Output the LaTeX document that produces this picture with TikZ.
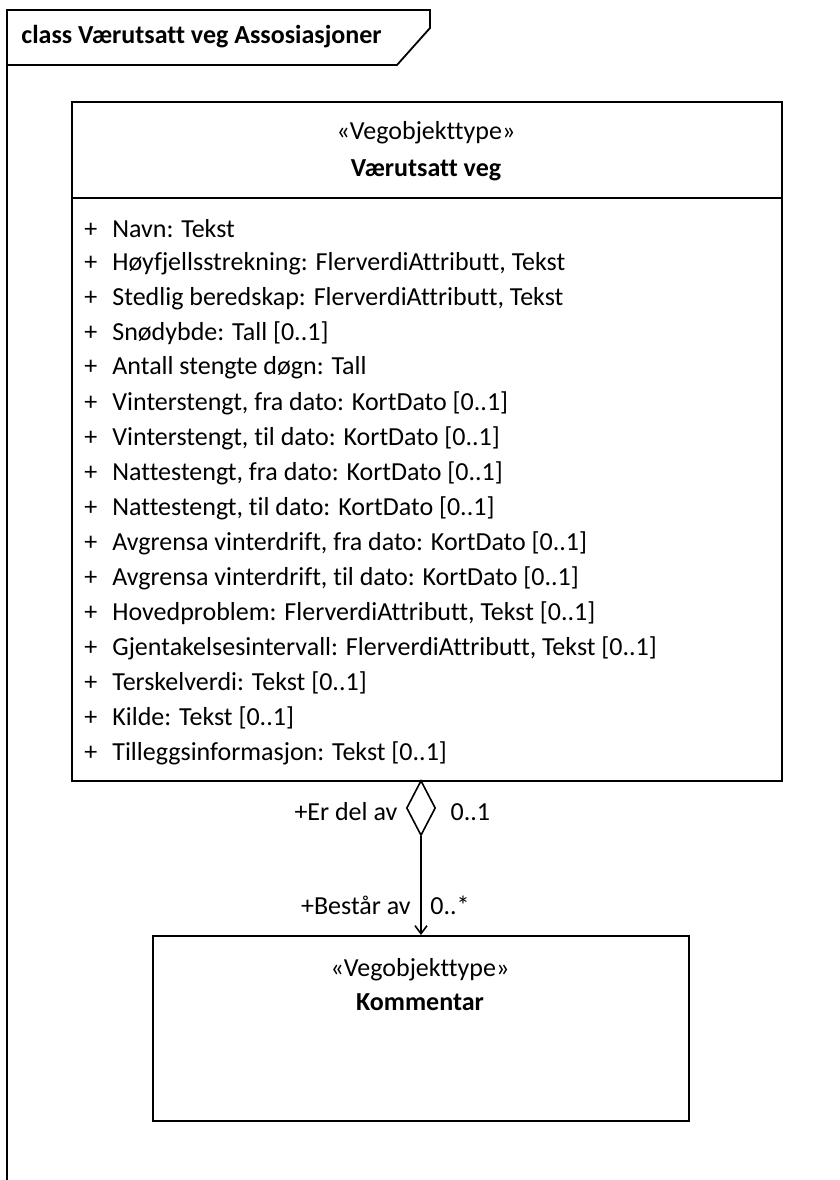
\documentclass[tikz,border=0pt]{standalone}
\usepackage{fontspec}
\setmainfont[Ligatures=NoCommon]{Carlito}
\usetikzlibrary{shapes.geometric,arrows.meta,positioning}
\newcommand\attr[1]{\makebox[14pt][l]{+}#1}
\tikzset{
  umlbox/.style={draw,line width=.9pt,inner sep=0pt,anchor=north west},
  txt/.style={inner sep=1pt,font=\fontsize{13}{15}\selectfont},
  attrline/.style={txt,anchor=west},
}
\begin{document}
\begin{tikzpicture}[x=.5pt,y=-.5pt,>={Straight Barb[length=4pt,width=6pt]}]
  \useasboundingbox (0,0) rectangle (840,1180);
  % frame
  \draw[line width=.9pt](7,1180)--(7,10)--(430,10)--(430,28)--(397,65)--(7,65);
  \node (frame) at(19,37)[txt,anchor=west]{\bfseries class Værutsatt veg Assosiasjoner};
  % Værutsatt veg
  \node (vv) at(71,101)[umlbox,minimum width=355pt,minimum height=339.5pt]{};
  \draw[line width=.9pt](vv.west|-0,198)--(vv.east|-0,198);
  \node (vvst) at(426,133)[txt]{«Vegobjekttype»};
  \node (vvnm) at(426,170)[txt]{\bfseries Værutsatt veg};
  \node (a1) at(82,229)[attrline]{\attr{Navn: Tekst}};
  \node (a2) at(82,264)[attrline]{\attr{Høyfjellsstrekning: FlerverdiAttributt, Tekst}};
  \node (a3) at(82,299)[attrline]{\attr{Stedlig beredskap: FlerverdiAttributt, Tekst}};
  \node (a4) at(82,333)[attrline]{\attr{Snødybde: Tall [0..1]}};
  \node (a5) at(82,368)[attrline]{\attr{Antall stengte døgn: Tall}};
  \node (a6) at(82,403)[attrline]{\attr{Vinterstengt, fra dato: KortDato [0..1]}};
  \node (a7) at(82,438)[attrline]{\attr{Vinterstengt, til dato: KortDato [0..1]}};
  \node (a8) at(82,473)[attrline]{\attr{Nattestengt, fra dato: KortDato [0..1]}};
  \node (a9) at(82,508)[attrline]{\attr{Nattestengt, til dato: KortDato [0..1]}};
  \node (a10) at(82,543)[attrline]{\attr{Avgrensa vinterdrift, fra dato: KortDato [0..1]}};
  \node (a11) at(82,578)[attrline]{\attr{Avgrensa vinterdrift, til dato: KortDato [0..1]}};
  \node (a12) at(82,613)[attrline]{\attr{Hovedproblem: FlerverdiAttributt, Tekst [0..1]}};
  \node (a13) at(82,648)[attrline]{\attr{Gjentakelsesintervall: FlerverdiAttributt, Tekst [0..1]}};
  \node (a14) at(82,683)[attrline]{\attr{Terskelverdi: Tekst [0..1]}};
  \node (a15) at(82,718)[attrline]{\attr{Kilde: Tekst [0..1]}};
  \node (a16) at(82,753)[attrline]{\attr{Tilleggsinformasjon: Tekst [0..1]}};
  % Kommentar
  \node (komm) at(152,935)[umlbox,minimum width=268pt,minimum height=92.5pt]{};
  \node (kommst) at(420,970)[txt]{«Vegobjekttype»};
  \node (kommnm) at(420,1002)[txt]{\bfseries Kommentar};
  % aggregation
  \node (dia) at(421,808)[diamond,draw,line width=.8pt,inner sep=0pt,minimum width=14.5pt,minimum height=27.5pt]{};
  \draw[->,line width=.8pt](dia.south)--(dia.south|-komm.north);
  \node (erdel) [txt,left=3pt of dia,yshift=-2pt]{+Er del av};
  \node (min1) [txt,right=6pt of dia,yshift=-2pt]{0..1};
  \node (bestar) at(413,905)[txt,anchor=east]{+Består av};
  \node (mink) at(428,905)[txt,anchor=west]{0..*};
\end{tikzpicture}
\end{document}
